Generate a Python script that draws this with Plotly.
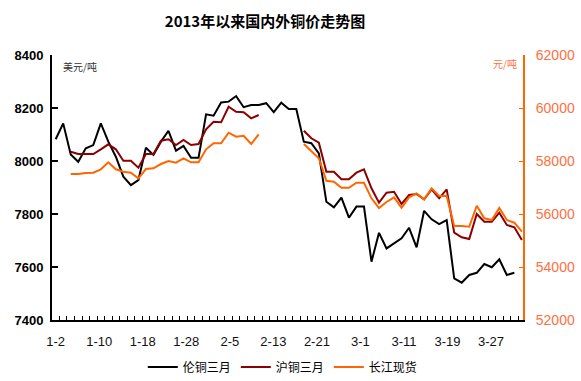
import plotly.graph_objects as go

# ---- data ----
tick_labels = ["1-2", "1-10", "1-18", "1-28", "2-5", "2-13", "2-21", "3-1", "3-11", "3-19", "3-27"]

lme_usd = [8082, 8142, 8025, 7997, 8048, 8060, 8142, 8073, 8016, 7941,
           7909, 7928, 8050, 8023, 8073, 8114, 8039, 8057, 8012, 8012,
           8176, 8171, 8221, 8224, 8245, 8203, 8211, 8211, 8218, 8184,
           8220, 8196, 8196, 8073, 8067, 8029, 7846, 7825, 7862, 7786,
           7828, 7828, 7620, 7729, 7670, 7689, 7708, 7748, 7674, 7812,
           7780, 7762, 7777, 7557, 7541, 7570, 7578, 7611, 7599, 7629,
           7570, 7578, None]

shfe_cny = [None, None, 58351, 58264, 58264, 58264, 58441, 58630, 58441, 58011,
            58011, 57747, 58264, 58264, 58766, 58819, 58603, 58792, 58603, 58641,
            59196, 59483, 59460, 60049, 59860, 59837, 59611, 59736, None, None,
            None, None, None, 59143, 58856, 58690, 57596, 57596, 57309, 57309,
            57558, 57686, 56969, 56426, 56803, 56841, 56377, 56716, 56754, 56554,
            56931, 56592, 56931, 55294, 55120, 55056, 55999, 55709, 55709, 56048,
            55584, 55497, 55018]

cj_spot_cny = [None, None, 57509, 57509, 57547, 57558, 57686, 57950, 57686, 57596,
               57558, 57347, 57698, 57724, 57886, 58000, 57935, 58102, 57950, 57950,
               58441, 58668, 58668, 59068, 58917, 58954, 58641, 59007, None, None,
               None, None, None, 58641, 58388, 58102, 57256, 57218, 56992, 56992,
               57181, 57181, 56592, 56226, 56452, 56630, 56237, 56630, 56780, 56554,
               56969, 56679, 56679, 55546, 55546, 55520, 56312, 55837, 55773, 56226,
               55773, 55671, 55332]

series_names = ["伦铜三月", "沪铜三月", "长江现货"]
x_idx = list(range(len(lme_usd)))

# ---- styles ----
BLACK = "#000000"
DARKRED = "#8B0000"
ORANGE = "#FF6600"
LABEL_ORANGE = "#FF7040"
CJK = "Noto Sans CJK SC"
LATIN = "Liberation Sans, Arial, sans-serif"

label_step = 5.79
tick_pos = [k * label_step for k in range(len(tick_labels))]

fig = go.Figure()
fig.add_trace(go.Scatter(x=x_idx, y=lme_usd, name=series_names[0], mode="lines",
                         line=dict(color=BLACK, width=2), yaxis="y", connectgaps=False))
fig.add_trace(go.Scatter(x=x_idx, y=shfe_cny, name=series_names[1], mode="lines",
                         line=dict(color=DARKRED, width=2), yaxis="y2", connectgaps=False))
fig.add_trace(go.Scatter(x=x_idx, y=cj_spot_cny, name=series_names[2], mode="lines",
                         line=dict(color=ORANGE, width=2), yaxis="y2", connectgaps=False))

plot_l, plot_r, plot_t, plot_b = 52, 523, 55, 320
def px_to_paper_x(px):
    return (px - plot_l) / (plot_r - plot_l)
def px_to_paper_y(py):
    return (plot_b - py) / (plot_b - plot_t)

fig.update_layout(
    width=581, height=381,
    margin=dict(l=52, r=58, t=55, b=61, autoexpand=False),
    paper_bgcolor="white", plot_bgcolor="white",
    title=dict(text="<b>2013年以来国内外铜价走势图</b>", x=265/581, xanchor="center",
               xref="container", y=1-22/381, yanchor="middle", yref="container",
               font=dict(family=CJK, size=15, color="#000000")),
    xaxis=dict(range=[-0.49, 62.15], tickmode="array", tickvals=tick_pos, ticktext=tick_labels,
               showgrid=False, zeroline=False, showline=True, linecolor=BLACK, linewidth=2,
               ticks="", tickfont=dict(family=LATIN, size=13, color="#111111"),
               ticklabelstandoff=8, automargin=False,
               minor=dict(ticks="inside", tickmode="linear", tick0=-0.5, dtick=1,
                          ticklen=4, tickwidth=1, tickcolor=BLACK, showgrid=False)),
    yaxis=dict(range=[7400, 8400], dtick=200, tick0=7400, showgrid=False, zeroline=False,
               showline=True, linecolor=BLACK, linewidth=2, ticks="inside", ticklen=6,
               tickwidth=2, tickcolor=BLACK, ticklabelstandoff=4, automargin=False,
               tickformat="d",
               tickfont=dict(family=LATIN, size=13, color="#000000", weight="bold")),
    yaxis2=dict(range=[52000, 62000], dtick=2000, tick0=52000, overlaying="y", side="right",
                showgrid=False, zeroline=False, showline=True, linecolor=ORANGE, linewidth=2,
                ticks="inside", ticklen=4, tickwidth=1, tickcolor=ORANGE, ticklabelstandoff=8,
                tickformat="d", automargin=False,
                tickfont=dict(family=LATIN, size=14, color=LABEL_ORANGE)),
    legend=dict(orientation="h", x=0.49, xanchor="center", y=-0.177, yanchor="middle",
                font=dict(family=CJK, size=12, color="#000000"), itemwidth=30,
                bgcolor="rgba(0,0,0,0)", tracegroupgap=0),
    showlegend=True,
    annotations=[
        dict(text="美元/吨", x=px_to_paper_x(61), xref="paper", xanchor="left",
             y=px_to_paper_y(66), yref="paper", yanchor="middle", showarrow=False,
             font=dict(family=CJK, size=10, color="#333333")),
        dict(text="元/吨", x=px_to_paper_x(519), xref="paper", xanchor="right",
             y=px_to_paper_y(63), yref="paper", yanchor="middle", showarrow=False,
             font=dict(family=CJK, size=10, color=LABEL_ORANGE)),
    ],
)

fig.write_html("out.html", config={"displayModeBar": False},
               post_script="document.body.style.margin='0';document.body.style.padding='0';")
